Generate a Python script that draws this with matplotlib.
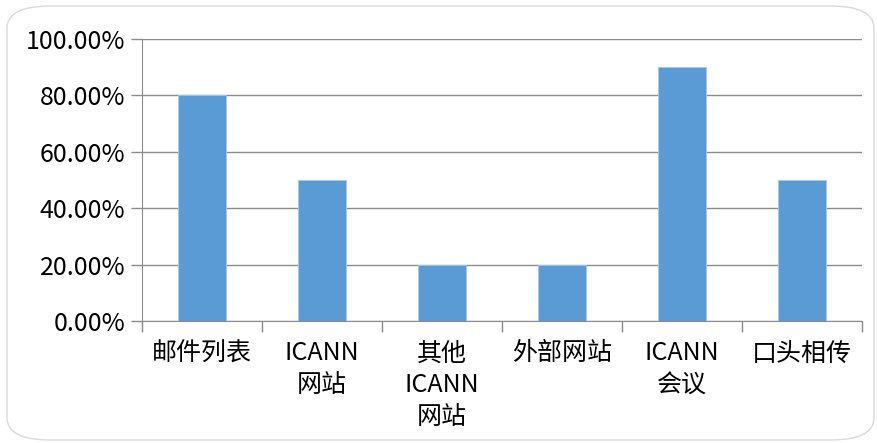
import numpy as np
import matplotlib.pyplot as plt
from matplotlib.patches import FancyBboxPatch
from matplotlib.ticker import PercentFormatter

plt.rcParams['font.family'] = ['Noto Sans CJK SC', 'DejaVu Sans']

categories = ["邮件列表", "ICANN\n网站", "其他\nICANN\n网站", "外部网站", "ICANN\n会议", "口头相传"]
shares = [80, 50, 20, 20, 90, 50]
yticks = [0, 20, 40, 60, 80, 100]

fig = plt.figure(figsize=(8.78, 4.43), dpi=100)
ax = fig.add_axes([142 / 878, 1 - 321 / 443, 720 / 878, 282 / 443])

# rounded frame around the whole chart
frame = FancyBboxPatch((7 / 878, 3 / 443), 867 / 878, 434 / 443,
                       boxstyle="round,pad=0,rounding_size=0.05",
                       transform=fig.transFigure, facecolor="none",
                       edgecolor="#d9d9d9", lw=1.0, zorder=0)
fig.patches.append(frame)

x = np.arange(len(categories))
ax.bar(x, shares, width=0.4, color="#5b9bd5", edgecolor="#a9c8ea", lw=0.6, zorder=3)

ax.set_xlim(-0.5, len(categories) - 0.5)
ax.set_ylim(0, 100)
ax.set_yticks(yticks)
ax.yaxis.set_major_formatter(PercentFormatter(decimals=2))
ax.grid(axis="y", color="#8c8c8c", lw=1.0, zorder=0)

ax.set_xticks(x)
ax.set_xticklabels(categories, linespacing=1.3, va="top")
ax.set_xticks(np.arange(-0.5, len(categories)), minor=True)
ax.tick_params(axis="x", which="major", length=0, pad=14, labelsize=18, colors="#000000")
ax.tick_params(axis="x", which="minor", length=8, color="#8c8c8c", width=1.0)
ax.tick_params(axis="y", length=8, color="#8c8c8c", width=1.0, labelsize=18, pad=4)

for s in ["top", "right"]:
    ax.spines[s].set_visible(False)
ax.spines["left"].set_color("#8c8c8c")
ax.spines["bottom"].set_color("#8c8c8c")

fig.savefig("out.png", dpi=100)
